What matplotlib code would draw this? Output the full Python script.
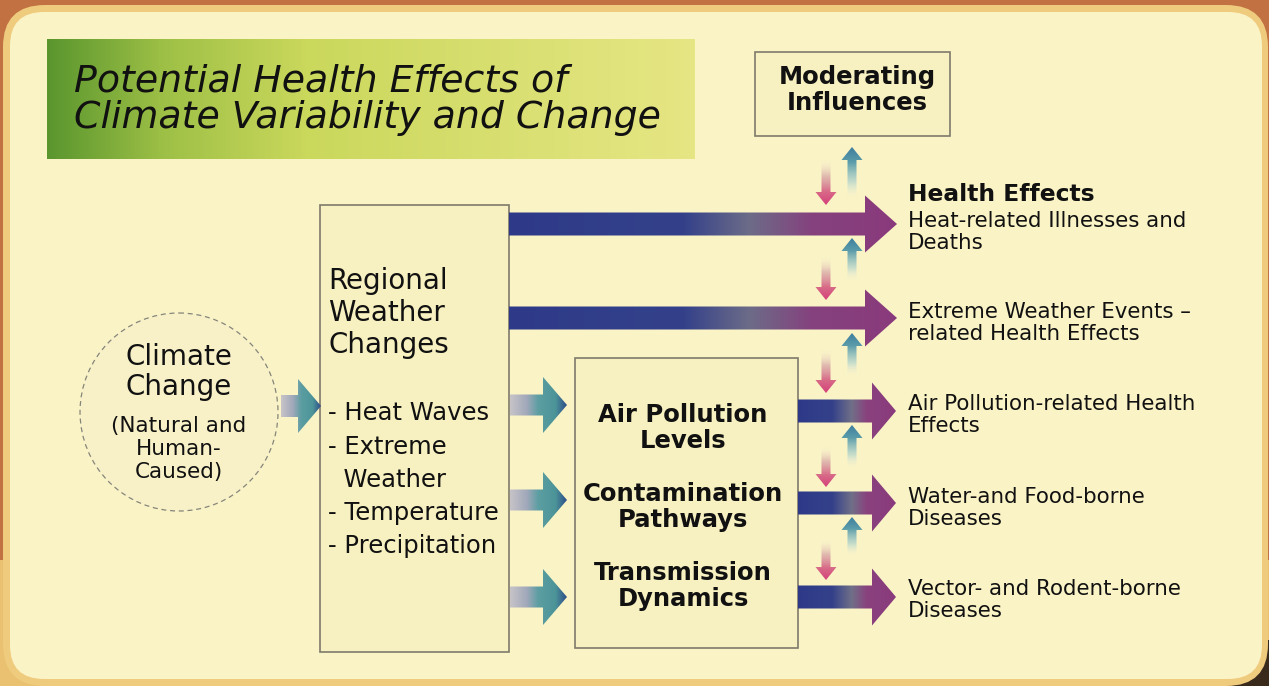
import numpy as np
import matplotlib
matplotlib.use("Agg")
import matplotlib.pyplot as plt
from matplotlib.patches import FancyBboxPatch, Rectangle, Polygon, Circle
from matplotlib.colors import LinearSegmentedColormap, to_rgba

# ---- text content of the diagram ----
title_lines = ["Potential Health Effects of", "Climate Variability and Change"]
moderating_lines = ["Moderating", "Influences"]
source_lines = ["Climate", "Change"]
source_sub = ["(Natural and", "Human-", "Caused)"]
weather_head = ["Regional", "Weather", "Changes"]
weather_items = ["- Heat Waves", "- Extreme", "  Weather", "- Temperature", "- Precipitation"]
pathways = [["Air Pollution", "Levels"],
            ["Contamination", "Pathways"],
            ["Transmission", "Dynamics"]]
effects_head = "Health Effects"
effects = [["Heat-related Illnesses and", "Deaths"],
           ["Extreme Weather Events \u2013", "related Health Effects"],
           ["Air Pollution-related Health", "Effects"],
           ["Water-and Food-borne", "Diseases"],
           ["Vector- and Rodent-borne", "Diseases"]]

# ---- layout (pixels, y downwards) ----
W, H = 1269, 686
effect_y = [224, 318, 411, 503, 597]      # arrow centre lines on the right
effect_base = [227, 318, 410, 503, 595]   # first text line baselines
path_arrow_y = [405, 500, 597]
path_base = [422, 501, 580]
weather_base = [420, 454, 487, 520, 553]
# (down arrow top, down tip, up tip, up tail) for the moderating arrows
mod_pairs = [(160, 205, 147, 197), (257, 300, 238, 280), (350, 393, 333, 375),
             (447, 487, 425, 467), (540, 580, 517, 555)]

fig = plt.figure(figsize=(W / 100, H / 100), dpi=100, facecolor="#C27242")
ax = fig.add_axes([0, 0, 1, 1])
ax.set_xlim(0, W)
ax.set_ylim(H, 0)
ax.axis("off")

# frame
ax.add_patch(Rectangle((0, 560), W, 126, fc="#E9C170", ec="none", zorder=0))
ax.add_patch(Rectangle((1200, 640), 69, 46, fc="#3A2A1C", ec="none", zorder=0.1))
ax.add_patch(FancyBboxPatch((3, 5), W - 4, H - 5, boxstyle="round,pad=0,rounding_size=42",
                            fc="#EFCB7E", ec="none", zorder=0.5))
ax.add_patch(FancyBboxPatch((10, 12), W - 17, H - 19, boxstyle="round,pad=0,rounding_size=34",
                            fc="#FAF3C6", ec="none", zorder=0.6))


def grad_fill(verts, x0, x1, y0, y1, cmap, vertical=False, z=3):
    poly = Polygon(verts, closed=True, fc="none", ec="none", zorder=z)
    ax.add_patch(poly)
    g = np.linspace(0, 1, 256)
    img = g[:, None] if vertical else g[None, :]
    im = ax.imshow(img, cmap=cmap, extent=[x0, x1, y1, y0], aspect="auto",
                   interpolation="bilinear", origin="upper", zorder=z)
    im.set_clip_path(poly)


def harrow(x0, x1, yc, sh, hh, hl):
    xb = x1 - hl
    return [(x0, yc - sh / 2), (xb, yc - sh / 2), (xb, yc - hh / 2), (x1, yc),
            (xb, yc + hh / 2), (xb, yc + sh / 2), (x0, yc + sh / 2)]


def varrow(xc, y_tail, y_tip, sw, hw, hl):
    d = 1 if y_tip > y_tail else -1
    yb = y_tip - d * hl
    return [(xc - sw / 2, y_tail), (xc - sw / 2, yb), (xc - hw / 2, yb), (xc, y_tip),
            (xc + hw / 2, yb), (xc + sw / 2, yb), (xc + sw / 2, y_tail)]


def cm(stops, name):
    return LinearSegmentedColormap.from_list(name, [(p, to_rgba(c, a)) for p, c, a in stops])


long_cm = cm([(0, "#2E3A88", 1), (0.45, "#34418A", 1), (0.62, "#6C6C88", 1),
              (0.78, "#85427E", 1), (1, "#8A3A7C", 1)], "long")
short_cm = cm([(0, "#2E3A88", 1), (0.35, "#34418A", 1), (0.55, "#707088", 1),
               (0.7, "#89427E", 1), (1, "#8A3A7C", 1)], "short")
teal_cm = cm([(0, "#C8C4C8", 1), (0.3, "#A0A8BA", 1), (0.5, "#5C9EA2", 1),
              (0.8, "#4C9498", 1), (1, "#2E4C8A", 1)], "teal")
down_cm = cm([(0, "#F2E8D0", 0), (0.35, "#D8A8A8", 0.75), (0.7, "#D86A88", 1),
              (1, "#D4407A", 1)], "down")
up_cm = cm([(0, "#3E7E9E", 1), (0.3, "#5A9CAA", 1), (0.7, "#A8D0CC", 0.65),
            (1, "#E8F0E0", 0)], "up")

# title banner
title_cm = cm([(0, "#5A962E", 1), (0.18, "#9EC046", 1), (0.4, "#CAD85C", 1),
               (1, "#E6E684", 1)], "title")
ax.imshow(np.linspace(0, 1, 256)[None, :], cmap=title_cm, extent=[47, 695, 159, 39],
          aspect="auto", interpolation="bilinear", zorder=1)
for i, line in enumerate(title_lines):
    ax.text(74, 91 + 37 * i, line, fontsize=27.3, style="italic", color="#111111",
            va="baseline", ha="left", zorder=5)

# boxes
box_kw = dict(fc="#F7F0C0", ec="#7E7A6A", lw=1.2, zorder=2)
ax.add_patch(Rectangle((755, 52), 195, 84, **box_kw))
ax.add_patch(Rectangle((320, 205), 189, 447, **box_kw))
ax.add_patch(Rectangle((575, 358), 223, 290, **box_kw))
ax.add_patch(Circle((179, 412), 99, fc="#F8F1C8", ec="#85857A", lw=0.9, ls=(0, (4, 3)), zorder=2))

# arrows
grad_fill(harrow(281, 321, 406, 22, 54, 23), 281, 321, 379, 433, teal_cm)
for yc in effect_y[:2]:
    grad_fill(harrow(509, 897, yc, 23, 57, 32), 509, 897, yc - 29, yc + 29, long_cm)
for yc in path_arrow_y:
    grad_fill(harrow(510, 567, yc, 21, 56, 24), 510, 567, yc - 28, yc + 28, teal_cm)
for yc in effect_y[2:]:
    grad_fill(harrow(798, 896, yc, 23, 57, 24), 798, 896, yc - 29, yc + 29, short_cm)
for d0, d1, u0, u1 in mod_pairs:
    grad_fill(varrow(826, d0, d1, 9, 21, 13), 814, 838, d0, d1, down_cm, vertical=True, z=4)
    grad_fill(varrow(852, u1, u0, 9, 21, 13), 840, 864, u0, u1, up_cm, vertical=True, z=4)

# texts
for i, line in enumerate(moderating_lines):
    ax.text(857, 84 + 26 * i, line, fontsize=17.5, weight="bold", ha="center",
            va="baseline", zorder=5, color="#111111")
for i, line in enumerate(source_lines):
    ax.text(179, 365 + 30 * i, line, fontsize=20, ha="center", va="baseline", zorder=5, color="#111111")
for i, line in enumerate(source_sub):
    ax.text(179, 432 + 23 * i, line, fontsize=15.5, ha="center", va="baseline", zorder=5, color="#111111")
for i, line in enumerate(weather_head):
    ax.text(328, 289 + 32 * i, line, fontsize=20, ha="left", va="baseline", zorder=5, color="#111111")
for yb, line in zip(weather_base, weather_items):
    ax.text(328, yb, line, fontsize=17.5, ha="left", va="baseline", zorder=5, color="#111111")
for yb, lines in zip(path_base, pathways):
    for i, line in enumerate(lines):
        ax.text(683, yb + 26 * i, line, fontsize=17.5, weight="bold", ha="center",
                va="baseline", zorder=5, color="#111111")
ax.text(908, 201, effects_head, fontsize=16.8, weight="bold", ha="left", va="baseline",
        zorder=5, color="#111111")
for yb, lines in zip(effect_base, effects):
    for i, line in enumerate(lines):
        ax.text(908, yb + 22 * i, line, fontsize=15.4, ha="left", va="baseline",
                zorder=5, color="#111111")

ax.set_xlim(0, W)
ax.set_ylim(H, 0)
fig.savefig("out.png", dpi=100, facecolor=fig.get_facecolor())
